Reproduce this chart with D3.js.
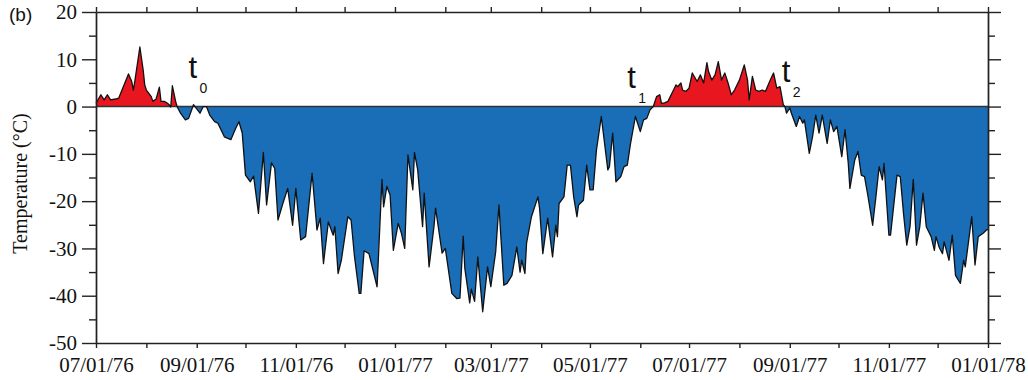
<!DOCTYPE html>
<html lang="en">
<head>
  <meta charset="UTF-8">
  <title>Temperature (b)</title>
  <style>
    body { margin: 0; background: #fff; }
    .axis path,
    .axis line {
      fill: none;
      stroke: #222;
      stroke-width: 1.4px;
    }
    .axis text {
      font-family: "Liberation Serif", "Times New Roman", serif;
      font-size: 21px;
      fill: #111;
    }
    .title {
      font-family: "Liberation Serif", "Times New Roman", serif;
      font-size: 20px;
      fill: #111;
    }
    .mark {
      font-family: "Liberation Sans", Arial, sans-serif;
      fill: #111;
    }
  </style>
</head>
<body>
  <div id="chart"></div>
  <script src="https://cdn.jsdelivr.net/npm/d3@7"></script>
  <script>
    // days since 07/01/76 and daily air temperature (°C)
    var days = [0, 3, 5, 7, 9, 12, 14, 16, 20, 22, 23, 24, 27, 29, 30, 31, 34, 35, 37, 39,
      40, 42, 44, 45, 46, 47, 49, 50, 52, 55, 57, 60, 64, 66, 68, 70, 73, 75, 79, 83,
      86, 88, 90, 92, 95, 97, 100, 103, 105, 108, 110, 112, 115, 118, 121, 123, 126, 129, 133, 136,
      138, 140, 143, 146, 147, 149, 151, 155, 157, 159, 162, 163, 165, 168, 173, 176, 177, 179, 181, 183,
      186, 188, 190, 192, 195, 196, 198, 201, 202, 205, 208, 209, 213, 215, 219, 222, 224, 226, 227, 230,
      231, 233, 235, 238, 241, 243, 246, 248, 251, 253, 256, 259, 261, 262, 264, 265, 268, 272, 273, 275,
      278, 281, 283, 284, 285, 288, 290, 292, 294, 296, 297, 300, 302, 304, 306, 308, 311, 315, 316, 318,
      320, 323, 325, 327, 329, 332, 335, 337, 339, 341, 343, 345, 347, 348, 350, 352, 355, 357, 358, 360,
      361, 363, 365, 367, 370, 372, 374, 376, 377, 379, 381, 383, 385, 387, 389, 391, 393, 396, 399, 401,
      402, 404, 406, 408, 410, 412, 415, 417, 419, 421, 423, 424, 425, 427, 428, 431, 433, 435, 436, 439,
      441, 443, 445, 447, 450, 452, 454, 456, 459, 461, 463, 464, 467, 469, 471, 473, 475, 478, 480, 482,
      484, 485, 488, 489, 493, 495, 497, 499, 501, 503, 505, 507, 509, 511, 514, 516, 517, 519, 521, 522,
      525, 527, 529, 532, 534, 535, 539, 541, 543, 546, 548, 549]
    var temps = [0.7, 2.5, 1.4, 2.5, 1.4, 1.6, 1.8, 3.5, 6.9, 5.3, 3.5, 5.6, 12.6, 7.8, 4.6, 3.5, 2.1, 1.1, 1.6, 4.1,
      1.1, 1.1, 0.7, 0.4, -0.1, 4.4, 1.1, -0.1, -1.4, -2.8, -2.5, 0.4, -1.4, 0, 0, -1.8, -3.2, -3.5, -6.4, -7,
      -4.6, -3.2, -5.6, -14.5, -15.9, -14.7, -22.6, -9.7, -20.8, -11.9, -13.1, -24, -20.5, -17.3, -25.1, -17.3, -28.2, -27.5, -14.1, -26.1,
      -23.6, -33.2, -24.4, -27.2, -25.4, -35.3, -32.5, -23.3, -24, -31.4, -39.5, -39.5, -30.5, -31.1, -38.1, -15.4, -21.2, -16.9, -18.7, -30.4,
      -24.7, -26.8, -30, -10.2, -17.6, -9.7, -13.4, -25.4, -18.3, -33.9, -25.4, -21.5, -31, -30, -39.5, -40.6, -40.5, -27.4, -34.2, -41.5,
      -38.6, -41.2, -31.8, -43.4, -33.9, -38.1, -30.7, -20.8, -37.8, -37.4, -35.7, -29.7, -35, -32.5, -35.3, -28.9, -23.3, -19.1, -21.5, -31.1,
      -23.6, -31.8, -25.1, -27.5, -20.5, -19.1, -12.4, -12.4, -19.1, -23.3, -20.8, -19.8, -12.4, -17.6, -17.6, -9.2, -2.1, -13.4, -12.7, -5.6,
      -15.9, -14.8, -12.7, -12.4, -7.8, -2.1, -5.3, -2.8, -2.5, -0.7, 0, 2.1, 2.5, 0.7, 0.8, 1.1, 3.2, 4.6, 4.2, 5,
      3.5, 3.2, 3.9, 7.1, 5.3, 6.7, 5, 9.3, 7.4, 5.6, 6.7, 9.5, 5.6, 7.1, 5, 2.5, 3.5, 5.6, 8.8, 5.6,
      1.4, 6.4, 3.5, 3.2, 3.5, 3.2, 5.6, 7.1, 3.9, 4.2, 0.4, 0, -1.4, -0.3, -1.4, -4.2, -2.1, -3.5, -2.8, -9.9,
      -6.4, -1.8, -5.6, -1.8, -7.8, -2.8, -5.3, -4.2, -10.6, -4.9, -12, -17.3, -11.3, -9.5, -14.5, -14.8, -18.7, -25.1, -19.1, -12.7,
      -15.5, -12, -27.2, -27.2, -14.5, -14.8, -22.6, -29.3, -25.4, -15.4, -29.3, -25.4, -18.3, -25.4, -27.5, -30.4, -27.5, -29.8, -31.1, -28.6,
      -32.5, -27.2, -35.7, -37.4, -32.5, -33.9, -23.3, -33.5, -27.5, -26.8, -26.1, -26]

    var startDate = new Date(1976, 6, 1)
    var endDate = new Date(1978, 0, 1)
    var yMajor = [-50, -40, -30, -20, -10, 0, 10, 20]
    var yMinor = [-45, -35, -25, -15, -5, 5, 15]

    // t0, t1, t2 annotations
    var markNames = ['t', 't', 't']
    var markSubs = ['0', '1', '2']
    var markDays = [57, 327, 422]
    var markTemps = [6.1, 4.0, 5.2]

    var width = 1028
    var height = 380
    var padding = {left: 96, right: 40, top: 12, bottom: 37}
    var innerW = width - padding.left - padding.right
    var innerH = height - padding.top - padding.bottom

    var data = days.map(function (d, i) {
      return {date: d3.timeDay.offset(startDate, d), t: temps[i]}
    })

    var svg = d3.select('#chart')
      .append('svg')
      .attr('width', width)
      .attr('height', height)

    var g = svg.append('g')
      .attr('transform', 'translate(' + padding.left + ',' + padding.top + ')')

    var xScale = d3.scaleTime()
      .domain([startDate, endDate])
      .range([0, innerW])
    var yScale = d3.scaleLinear()
      .domain([-50, 20])
      .range([innerH, 0])

    // clip areas above / below zero
    var defs = svg.append('defs')
    defs.append('clipPath').attr('id', 'above')
      .append('rect')
      .attr('x', 0).attr('y', 0)
      .attr('width', innerW).attr('height', yScale(0))
    defs.append('clipPath').attr('id', 'below')
      .append('rect')
      .attr('x', 0).attr('y', yScale(0))
      .attr('width', innerW).attr('height', innerH - yScale(0))

    var area = d3.area()
      .x(function (d) { return xScale(d.date) })
      .y0(yScale(0))
      .y1(function (d) { return yScale(d.t) })

    g.append('path')
      .datum(data)
      .attr('clip-path', 'url(#above)')
      .attr('fill', '#e8161f')
      .attr('d', area)
    g.append('path')
      .datum(data)
      .attr('clip-path', 'url(#below)')
      .attr('fill', '#1a6db7')
      .attr('d', area)

    // zero line
    g.append('line')
      .attr('x1', 0).attr('x2', innerW)
      .attr('y1', yScale(0)).attr('y2', yScale(0))
      .attr('stroke', '#333')
      .attr('stroke-width', 1.6)

    var line = d3.line()
      .x(function (d) { return xScale(d.date) })
      .y(function (d) { return yScale(d.t) })
    g.append('path')
      .datum(data)
      .attr('fill', 'none')
      .attr('stroke', '#111')
      .attr('stroke-width', 1.3)
      .attr('stroke-linejoin', 'round')
      .attr('d', line)

    // axes
    var fmt = d3.timeFormat('%m/%d/%y')
    var xAxis = d3.axisBottom(xScale)
      .ticks(d3.timeMonth.every(1))
      .tickSize(5)
      .tickSizeOuter(0)
      .tickPadding(9)
      .tickFormat(function (d) { return d.getMonth() % 2 === 0 ? fmt(d) : '' })
    g.append('g')
      .attr('class', 'axis')
      .attr('transform', 'translate(0,' + innerH + ')')
      .call(xAxis)

    g.append('g')
      .attr('class', 'axis')
      .call(d3.axisTop(xScale).ticks(d3.timeMonth.every(1)).tickSize(5).tickSizeOuter(0).tickFormat(''))

    g.append('g')
      .attr('class', 'axis')
      .call(d3.axisLeft(yScale).tickValues(yMajor).tickSize(14).tickSizeOuter(0).tickPadding(5)
        .tickFormat(function (d) { return String(d) }))
    g.append('g')
      .attr('class', 'axis')
      .call(d3.axisLeft(yScale).tickValues(yMinor).tickSize(7).tickSizeOuter(0).tickFormat(''))

    g.append('g')
      .attr('class', 'axis')
      .attr('transform', 'translate(' + innerW + ',0)')
      .call(d3.axisRight(yScale).tickValues(yMajor).tickSize(13).tickSizeOuter(0).tickFormat(''))
    g.append('g')
      .attr('class', 'axis')
      .attr('transform', 'translate(' + innerW + ',0)')
      .call(d3.axisRight(yScale).tickValues(yMinor).tickSize(7).tickSizeOuter(0).tickFormat(''))

    // y title
    svg.append('text')
      .attr('class', 'title')
      .attr('transform', 'translate(27,' + (padding.top + innerH / 2 + 6) + ') rotate(-90)')
      .attr('text-anchor', 'middle')
      .text('Temperature (°C)')

    // panel label
    svg.append('text')
      .attr('class', 'mark')
      .attr('x', 9)
      .attr('y', 21)
      .attr('font-size', 19)
      .text('(b)')

    // t markers
    markNames.forEach(function (name, i) {
      var x = padding.left + xScale(d3.timeDay.offset(startDate, markDays[i]))
      var y = padding.top + yScale(markTemps[i])
      svg.append('text')
        .attr('class', 'mark')
        .attr('x', x)
        .attr('y', y)
        .attr('font-size', 31)
        .text(name)
      svg.append('text')
        .attr('class', 'mark')
        .attr('x', x + 11)
        .attr('y', y + 15)
        .attr('font-size', 14)
        .text(markSubs[i])
    })
  </script>
</body>
</html>
